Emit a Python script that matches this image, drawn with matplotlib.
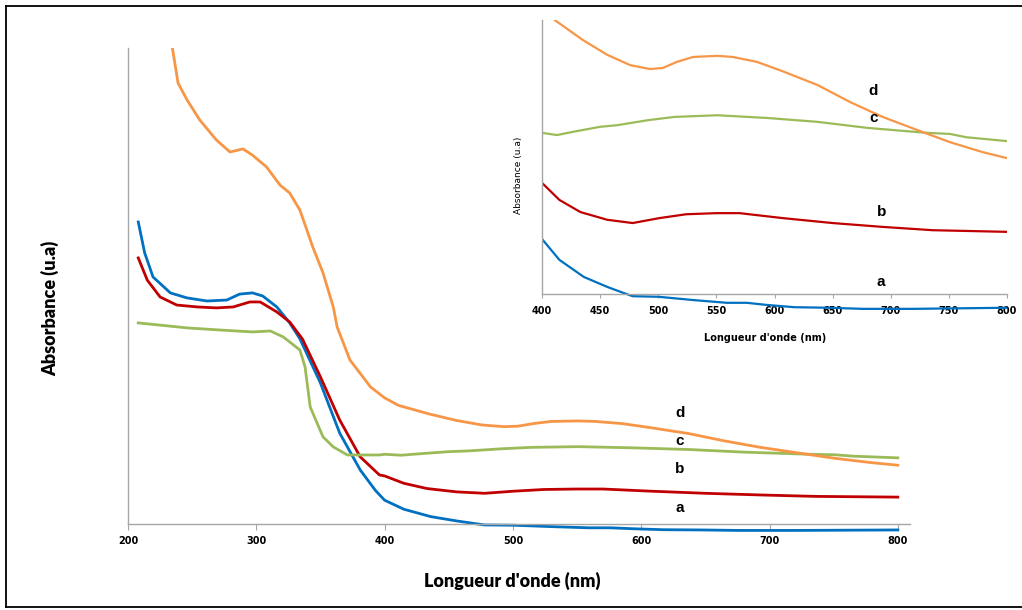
import matplotlib
matplotlib.use("Agg")
import matplotlib.pyplot as plt
from matplotlib.lines import Line2D

# ---------------- data (wavelength nm, absorbance a.u.) ----------------
wl_a = [208, 213, 219.5, 233, 246, 261.6, 277, 287, 297, 305, 316, 326, 334, 350, 365, 381, 393,
        400, 415, 436, 456, 470, 478, 500, 530, 559, 576, 594, 617, 646, 676, 720, 760, 800]
abs_a = [1.269, 1.139, 1.038, 0.971, 0.950, 0.937, 0.941, 0.966, 0.971, 0.958, 0.912, 0.845, 0.778, 0.592, 0.382, 0.227, 0.140,
         0.100, 0.062, 0.031, 0.013, 0.002, -0.004, -0.005, -0.011, -0.016, -0.016, -0.020, -0.024, -0.025, -0.027, -0.027, -0.026, -0.025]

wl_b = [208, 215, 225, 238, 254, 269, 282, 295, 303, 316, 326, 336, 350, 365, 381, 396,
        400, 415, 433, 456, 478, 501, 524, 550, 570, 607, 650, 693, 736, 800]
abs_b = [1.118, 1.025, 0.954, 0.920, 0.912, 0.908, 0.912, 0.933, 0.933, 0.891, 0.849, 0.777, 0.618, 0.437, 0.282, 0.206,
         0.202, 0.171, 0.149, 0.135, 0.129, 0.138, 0.145, 0.147, 0.147, 0.138, 0.129, 0.122, 0.116, 0.113]

wl_c = [208, 246, 272, 297, 311, 321, 334, 338, 342, 352, 360, 371, 396,
        400, 413, 427, 450, 465, 491, 514, 551, 594, 637, 680, 731, 751, 765, 800]
abs_c = [0.845, 0.824, 0.815, 0.807, 0.811, 0.786, 0.731, 0.660, 0.492, 0.366, 0.324, 0.290, 0.290,
         0.293, 0.289, 0.295, 0.304, 0.307, 0.316, 0.322, 0.325, 0.320, 0.313, 0.302, 0.293, 0.291, 0.285, 0.278]

wl_d = [234, 239, 246, 256, 269, 279.5, 289.6, 297, 308, 318.5, 326, 334, 344, 352, 360, 363, 373, 389,
        400, 411, 435, 456, 476, 493, 504, 516, 530, 551, 564, 585, 607, 637, 665, 693, 723, 751, 779, 800]
abs_d = [2.02, 1.853, 1.782, 1.697, 1.613, 1.563, 1.576, 1.550, 1.500, 1.424, 1.391, 1.319, 1.164, 1.055, 0.912, 0.828, 0.689, 0.576,
         0.530, 0.498, 0.462, 0.435, 0.416, 0.409, 0.411, 0.422, 0.431, 0.433, 0.431, 0.422, 0.405, 0.380, 0.349, 0.322, 0.298, 0.276, 0.258, 0.247]

labels = ["a", "b", "c", "d"]
main_ticks = [200, 300, 400, 500, 600, 700, 800]
inset_ticks = [400, 450, 500, 550, 600, 650, 700, 750, 800]

# label positions (wavelength, absorbance)
main_lab_x = [630, 630, 630, 630]
main_lab_y = [0.067, 0.231, 0.349, 0.466]
ins_lab_x = [691, 692, 685, 685]
ins_lab_y = [0.022, 0.149, 0.320, 0.369]

colors = ["#0070C0", "#C00000", "#9BBB59", "#F79646"]
series = [(wl_a, abs_a), (wl_b, abs_b), (wl_c, abs_c), (wl_d, abs_d)]

W, H = 1022, 610
fig = plt.figure(figsize=(W / 100, H / 100), dpi=100)

# figure border: top, left, bottom (no right edge visible)
bx0, by_top, by_bot = 5.5 / W, 1 - 6 / H, 1 - 607 / H
for xs, ys in [([bx0, 1.0], [by_top, by_top]),
               ([bx0, bx0], [by_top, by_bot]),
               ([bx0, 1.0], [by_bot, by_bot])]:
    fig.add_artist(Line2D(xs, ys, transform=fig.transFigure, color="black", linewidth=1.3))

spine_col = "#A6A6A6"
tick_font = dict(family="DejaVu Sans", weight="bold", size=7)

# ---------------- main axes ----------------
px_unit = 238.0
ax_top, ax_bot = 48, 533.5
ax = fig.add_axes([128 / W, 1 - ax_bot / H, (910 - 128) / W, (ax_bot - ax_top) / H])
ax.set_xlim(200, 809.5)
ax.set_ylim(-(ax_bot - 524) / px_unit, (524 - ax_top) / px_unit)
for (x, y), c in zip(series, colors):
    ax.plot(x, y, color=c, linewidth=2.0)
for s in ["top", "right"]:
    ax.spines[s].set_visible(False)
ax.spines["bottom"].set_position(("data", 0))
ax.spines["left"].set_bounds(0, (524 - ax_top) / px_unit)
for s in ["bottom", "left"]:
    ax.spines[s].set_color(spine_col)
    ax.spines[s].set_linewidth(1.0)
ax.set_yticks([])
ax.set_xticks(main_ticks)
ax.set_xticklabels([str(t) for t in main_ticks], fontdict=tick_font)
ax.tick_params(axis="x", direction="out", length=4, color=spine_col, pad=5)
for lx, ly, lab in zip(main_lab_x, main_lab_y, labels):
    ax.text(lx, ly, lab, fontsize=11, fontweight="bold", family="Liberation Sans",
            ha="center", va="center")
fig.text(512 / W, 1 - 581 / H, "Longueur d'onde (nm)", fontsize=13, fontweight="heavy",
         family="Lato", ha="center", va="center")
fig.text(50 / W, 1 - 308 / H, "Absorbance (u.a)", fontsize=13, fontweight="heavy",
         family="Lato", ha="center", va="center", rotation=90)

# ---------------- inset axes ----------------
ipx = 550.0
i_top, i_bot = 20, 311
ax2 = fig.add_axes([542 / W, 1 - i_bot / H, (1007 - 542) / W, (i_bot - i_top) / H])
ax2.set_xlim(400, 800)
ax2.set_ylim(-(i_bot - 294) / ipx, (294 - i_top) / ipx)
for (x, y), c in zip(series, colors):
    ax2.plot(x, y, color=c, linewidth=1.6)
for s in ["top", "right"]:
    ax2.spines[s].set_visible(False)
ax2.spines["bottom"].set_position(("data", 0))
ax2.spines["left"].set_bounds(0, (294 - i_top) / ipx)
for s in ["bottom", "left"]:
    ax2.spines[s].set_color(spine_col)
    ax2.spines[s].set_linewidth(1.0)
ax2.set_yticks([])
ax2.set_xticks(inset_ticks)
ax2.set_xticklabels([str(t) for t in inset_ticks], fontdict=tick_font)
ax2.tick_params(axis="x", direction="out", length=3, color=spine_col, pad=6)
ax2.patch.set_alpha(0)
for lx, ly, lab in zip(ins_lab_x, ins_lab_y, labels):
    ax2.text(lx, ly, lab, fontsize=11, fontweight="bold", family="Liberation Sans",
             ha="center", va="center")
fig.text(765 / W, 1 - 338 / H, "Longueur d'onde (nm)", fontsize=7, fontweight="bold",
         family="DejaVu Sans", ha="center", va="center")
fig.text(518 / W, 1 - 175 / H, "Absorbance (u.a)", fontsize=6.5,
         family="DejaVu Sans", ha="center", va="center", rotation=90)

fig.savefig("out.png", dpi=100)
